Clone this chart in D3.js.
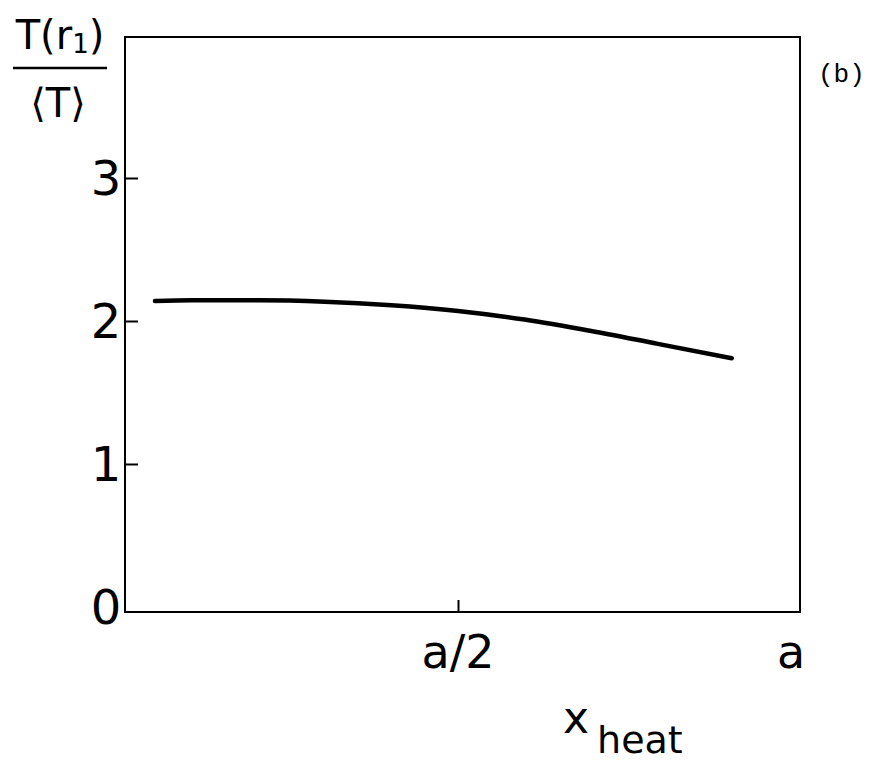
<!DOCTYPE html>
<html>
<head>
<meta charset="utf-8">
<script src="https://cdn.jsdelivr.net/npm/d3@7"></script>
<style>
  body { margin: 0; background: #fff; }
  svg text { fill: #000; }
</style>
</head>
<body>
<div id="chart"></div>
<script>
// data (x in units of a)
var xValues = [0.045, 0.1, 0.2, 0.3, 0.4, 0.5, 0.6, 0.7, 0.8, 0.911];
var tValues = [2.14, 2.145, 2.145, 2.135, 2.11, 2.07, 2.01, 1.93, 1.84, 1.74];
var yTicks = [0, 1, 2, 3];
var xTicks = [0.5, 1];
var xTickLabels = ["a/2", "a"];

var W = 872, H = 762;
var frameLeft = 125, frameRight = 800, frameTop = 37, frameBottom = 612;

var svg = d3.select("#chart").append("svg")
    .attr("width", W)
    .attr("height", H);

var x = d3.scaleLinear().domain([0, 1]).range([frameLeft, 791]);
var y = d3.scaleLinear().domain([-0.035, 3.986]).range([frameBottom, frameTop]);

// frame
svg.append("rect")
    .attr("x", frameLeft).attr("y", frameTop)
    .attr("width", frameRight - frameLeft).attr("height", frameBottom - frameTop)
    .attr("fill", "none")
    .attr("stroke", "#000")
    .attr("stroke-width", 2);

// y axis: inward ticks, big labels
var yAxis = svg.append("g")
    .attr("transform", "translate(" + frameLeft + ",0)")
    .call(d3.axisRight(y).tickValues(yTicks).tickSize(13).tickFormat(""));
yAxis.select(".domain").remove();
yAxis.selectAll("line").attr("stroke", "#000").attr("stroke-width", 2);
yAxis.selectAll(".tick").filter(function(d) { return d === 0; }).remove();

svg.selectAll(".ylab")
    .data(yTicks)
  .enter().append("text")
    .attr("class", "ylab")
    .attr("x", 106)
    .attr("y", function(d) { return y(d) + 17; })
    .attr("text-anchor", "middle")
    .style("font-family", "DejaVu Sans, sans-serif")
    .style("font-size", "48px")
    .text(function(d) { return d; });

// x axis: one inward tick at a/2
var xAxis = svg.append("g")
    .attr("transform", "translate(0," + frameBottom + ")")
    .call(d3.axisTop(x).tickValues([0.5]).tickSize(12).tickFormat(""));
xAxis.select(".domain").remove();
xAxis.selectAll("line").attr("stroke", "#000").attr("stroke-width", 2);

svg.selectAll(".xlab")
    .data(xTicks)
  .enter().append("text")
    .attr("class", "xlab")
    .attr("x", function(d) { return x(d); })
    .attr("y", 668)
    .attr("text-anchor", "middle")
    .style("font-family", "DejaVu Sans, sans-serif")
    .style("font-size", "46px")
    .text(function(d, i) { return xTickLabels[i]; });

// curve
var line = d3.line()
    .x(function(d, i) { return x(xValues[i]); })
    .y(function(d) { return y(d); })
    .curve(d3.curveMonotoneX);

svg.append("path")
    .datum(tValues)
    .attr("d", line)
    .attr("fill", "none")
    .attr("stroke", "#000")
    .attr("stroke-width", 4.5)
    .attr("stroke-linecap", "round");

// y label as a fraction
var ylab = svg.append("g").style("font-family", "DejaVu Sans, sans-serif");
var num = ylab.append("text")
    .attr("x", 60).attr("y", 49)
    .attr("text-anchor", "middle")
    .style("font-size", "40px");
num.append("tspan").text("T(r");
num.append("tspan").attr("dy", 4).style("font-size", "26px").text("1");
num.append("tspan").attr("dy", -4).text(")");
ylab.append("line")
    .attr("x1", 13).attr("x2", 107)
    .attr("y1", 68).attr("y2", 68)
    .attr("stroke", "#000").attr("stroke-width", 2.5);
ylab.append("text")
    .attr("x", 58).attr("y", 117)
    .attr("text-anchor", "middle")
    .style("font-size", "40px")
    .text("\u27E8T\u27E9");

// x label
var xl = svg.append("text")
    .attr("x", 563).attr("y", 733)
    .style("font-family", "DejaVu Sans, sans-serif")
    .style("font-size", "44px");
xl.append("tspan").text("x");
xl.append("tspan").attr("dx", 8).attr("dy", 20).style("font-size", "38px").text("heat");

// panel tag
svg.append("text")
    .attr("x", 818).attr("y", 82)
    .style("font-family", "Liberation Mono, monospace")
    .style("font-size", "26px")
    .text("(b)");
</script>
</body>
</html>
